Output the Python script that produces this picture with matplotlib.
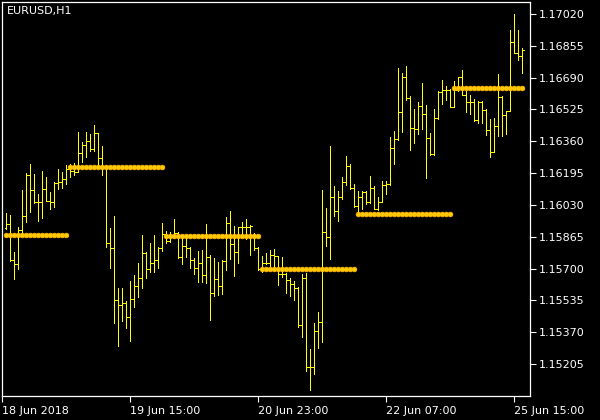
import numpy as np
import pandas as pd
import matplotlib
matplotlib.use("Agg")
import matplotlib.pyplot as plt

# ------------------------- data -------------------------
symbol = "EURUSD,H1"

# hourly bars: 18 Jun 08:00 .. 22 Jun 23:00, then 25 Jun 00:00 .. 17:00
times = pd.DatetimeIndex(
    list(pd.date_range("2018-06-18 08:00", "2018-06-22 23:00", freq="h"))
    + list(pd.date_range("2018-06-25 00:00", "2018-06-25 17:00", freq="h"))
)

opens = [
    1.15909, 1.15930, 1.15744, 1.15724, 1.15900, 1.15971, 1.16185, 1.16105, 1.16045, 1.16045,
    1.16110, 1.16050, 1.16045, 1.16144, 1.16147, 1.16164, 1.16216, 1.16208, 1.16203, 1.16299,
    1.16341, 1.16361, 1.16320, 1.16402, 1.16272, 1.16232, 1.15831, 1.15805, 1.15537, 1.15509,
    1.15520, 1.15447, 1.15540, 1.15608, 1.15649, 1.15781, 1.15696, 1.15727, 1.15743, 1.15808,
    1.15879, 1.15843, 1.15874, 1.15884, 1.15758, 1.15815, 1.15805, 1.15743, 1.15701, 1.15727,
    1.15665, 1.15760, 1.15572, 1.15644, 1.15609, 1.15739, 1.15935, 1.15827, 1.15784, 1.15917,
    1.15914, 1.15917, 1.15878, 1.15805, 1.15697, 1.15730, 1.15730, 1.15770, 1.15763, 1.15672,
    1.15672, 1.15641, 1.15618, 1.15598, 1.15406, 1.15651, 1.15191, 1.15191, 1.15378, 1.15424,
    1.15888, 1.15862, 1.16069, 1.15998, 1.16071, 1.16147, 1.16233, 1.16116, 1.16024, 1.16071,
    1.16097, 1.16044, 1.16118, 1.16009, 1.16047, 1.16133, 1.16137, 1.16327, 1.16370, 1.16510,
    1.16692, 1.16583, 1.16427, 1.16422, 1.16541, 1.16500, 1.16375, 1.16292, 1.16479, 1.16614,
    1.16624, 1.16626, 1.16539, 1.16626, 1.16692, 1.16600, 1.16565, 1.16562, 1.16470, 1.16564,
    1.16522, 1.16418, 1.16306, 1.16438, 1.16591, 1.16495, 1.16517, 1.16873, 1.16819, 1.16802,
]
highs = [
    1.15988, 1.15978, 1.15786, 1.15915, 1.16107, 1.16195, 1.16242, 1.16190, 1.16086, 1.16206,
    1.16175, 1.16097, 1.16147, 1.16216, 1.16201, 1.16238, 1.16242, 1.16247, 1.16408, 1.16356,
    1.16408, 1.16400, 1.16444, 1.16404, 1.16335, 1.16237, 1.15910, 1.15972, 1.15601, 1.15601,
    1.15532, 1.15635, 1.15666, 1.15729, 1.15874, 1.15787, 1.15832, 1.15874, 1.15813, 1.15938,
    1.15893, 1.15891, 1.15957, 1.15888, 1.15865, 1.15865, 1.15813, 1.15753, 1.15791, 1.15796,
    1.15931, 1.15768, 1.15753, 1.15735, 1.15744, 1.15966, 1.15997, 1.15921, 1.15917, 1.15943,
    1.15955, 1.15924, 1.15883, 1.15813, 1.15765, 1.15779, 1.15796, 1.15801, 1.15765, 1.15758,
    1.15678, 1.15649, 1.15634, 1.15604, 1.15670, 1.15678, 1.15283, 1.15419, 1.15475, 1.16106,
    1.16016, 1.16335, 1.16127, 1.16102, 1.16173, 1.16285, 1.16241, 1.16140, 1.16102, 1.16102,
    1.16100, 1.16180, 1.16128, 1.16071, 1.16154, 1.16154, 1.16381, 1.16413, 1.16740, 1.16712,
    1.16750, 1.16595, 1.16527, 1.16562, 1.16662, 1.16548, 1.16403, 1.16527, 1.16621, 1.16678,
    1.16647, 1.16631, 1.16672, 1.16695, 1.16730, 1.16621, 1.16601, 1.16579, 1.16570, 1.16570,
    1.16525, 1.16477, 1.16479, 1.16709, 1.16594, 1.16519, 1.16937, 1.17020, 1.16937, 1.16845,
]
lows = [
    1.15905, 1.15740, 1.15647, 1.15699, 1.15884, 1.15943, 1.15993, 1.16038, 1.15948, 1.15962,
    1.16048, 1.16009, 1.16021, 1.16114, 1.16118, 1.16140, 1.16176, 1.16185, 1.16200, 1.16254,
    1.16280, 1.16307, 1.16307, 1.16234, 1.16185, 1.15813, 1.15704, 1.15416, 1.15300, 1.15429,
    1.15393, 1.15326, 1.15502, 1.15554, 1.15601, 1.15652, 1.15684, 1.15684, 1.15704, 1.15793,
    1.15831, 1.15839, 1.15857, 1.15754, 1.15725, 1.15761, 1.15701, 1.15672, 1.15632, 1.15632,
    1.15623, 1.15433, 1.15559, 1.15564, 1.15568, 1.15692, 1.15749, 1.15661, 1.15730, 1.15862,
    1.15852, 1.15770, 1.15795, 1.15693, 1.15683, 1.15725, 1.15713, 1.15701, 1.15613, 1.15655,
    1.15572, 1.15558, 1.15537, 1.15398, 1.15347, 1.15169, 1.15070, 1.15152, 1.15286, 1.15317,
    1.15817, 1.15748, 1.15974, 1.15948, 1.16061, 1.16133, 1.16114, 1.16021, 1.15981, 1.16007,
    1.16033, 1.16040, 1.16007, 1.16006, 1.16045, 1.16085, 1.16133, 1.16244, 1.16366, 1.16410,
    1.16572, 1.16316, 1.16349, 1.16396, 1.16422, 1.16171, 1.16290, 1.16290, 1.16475, 1.16553,
    1.16574, 1.16536, 1.16536, 1.16621, 1.16598, 1.16513, 1.16500, 1.16467, 1.16456, 1.16453,
    1.16392, 1.16280, 1.16303, 1.16387, 1.16389, 1.16398, 1.16515, 1.16817, 1.16781, 1.16712,
]
closes = [
    1.15930, 1.15744, 1.15724, 1.15900, 1.15971, 1.16185, 1.16105, 1.16045, 1.16045, 1.16110,
    1.16050, 1.16045, 1.16144, 1.16147, 1.16164, 1.16216, 1.16208, 1.16203, 1.16299, 1.16341,
    1.16361, 1.16320, 1.16402, 1.16272, 1.16232, 1.15831, 1.15805, 1.15537, 1.15509, 1.15520,
    1.15447, 1.15540, 1.15608, 1.15649, 1.15781, 1.15696, 1.15727, 1.15743, 1.15808, 1.15879,
    1.15843, 1.15874, 1.15884, 1.15758, 1.15815, 1.15805, 1.15743, 1.15701, 1.15727, 1.15665,
    1.15760, 1.15572, 1.15644, 1.15609, 1.15739, 1.15935, 1.15827, 1.15784, 1.15917, 1.15914,
    1.15917, 1.15921, 1.15805, 1.15697, 1.15730, 1.15730, 1.15770, 1.15763, 1.15672, 1.15672,
    1.15641, 1.15618, 1.15598, 1.15406, 1.15651, 1.15191, 1.15191, 1.15378, 1.15424, 1.15888,
    1.15862, 1.16069, 1.15998, 1.16071, 1.16147, 1.16233, 1.16116, 1.16024, 1.16071, 1.16097,
    1.16044, 1.16118, 1.16009, 1.16047, 1.16133, 1.16137, 1.16327, 1.16370, 1.16510, 1.16692,
    1.16583, 1.16427, 1.16422, 1.16541, 1.16500, 1.16375, 1.16292, 1.16479, 1.16614, 1.16624,
    1.16626, 1.16539, 1.16626, 1.16692, 1.16600, 1.16565, 1.16562, 1.16470, 1.16564, 1.16522,
    1.16418, 1.16306, 1.16438, 1.16591, 1.16495, 1.16517, 1.16873, 1.16819, 1.16802, 1.16833,
]

# daily pivot level per trading day
pivot_days = ["2018-06-18", "2018-06-19", "2018-06-20", "2018-06-21", "2018-06-22", "2018-06-25"]
pivot_levels = [1.15872, 1.16225, 1.15870, 1.15696, 1.15983, 1.16635]

price_ticks = [1.17020, 1.16855, 1.16690, 1.16525, 1.16360, 1.16195,
               1.16030, 1.15865, 1.15700, 1.15535, 1.15370, 1.15205]
time_ticks = ["2018-06-19 15:00", "2018-06-20 23:00", "2018-06-22 07:00", "2018-06-25 15:00"]
time_labels = ["18 Jun 2018", "19 Jun 15:00", "20 Jun 23:00", "22 Jun 07:00", "25 Jun 15:00"]

# ------------------------- plot -------------------------
BAR_COLOR = "#FFFF00"
FG = "white"
LW = 0.5  # ~1 px

fig = plt.figure(figsize=(6, 4.2), dpi=100, facecolor="black")
ax = fig.add_axes([2 / 600, 24 / 420, 528 / 600, 394 / 420], facecolor="black")

idx = np.arange(len(times))
ax.vlines(idx, lows, highs, colors=BAR_COLOR, lw=LW, antialiased=False)
ax.hlines(opens, idx - 0.45, idx, colors=BAR_COLOR, lw=LW, antialiased=False)
ax.hlines(closes, idx, idx + 0.45, colors=BAR_COLOR, lw=LW, antialiased=False)

# pivot dots, one per bar, grouped by day
day_of_bar = times.strftime("%Y-%m-%d")
level_map = dict(zip(pivot_days, pivot_levels))
for day in pivot_days:
    sel = idx[day_of_bar == day]
    ax.plot(sel, [level_map[day]] * len(sel), ls="none", marker="o",
            ms=3.4, mfc="#FFCC00", mec="#FFB400", mew=0.5)

ax.set_xlim(-1.075, len(times) + 0.925)
ax.set_ylim(1.15039, 1.17082)

ax.yaxis.tick_right()
ax.set_yticks(price_ticks)
ax.set_yticklabels([f"{p:.5f}" for p in price_ticks])

xt = [-1] + list(times.get_indexer(pd.to_datetime(time_ticks)))
ax.set_xticks(xt)
ax.set_xticklabels(time_labels, ha="left")

ax.tick_params(axis="both", colors=FG, labelcolor=FG, labelsize=8, length=4, width=0.8)
ax.tick_params(axis="y", pad=2)
ax.tick_params(axis="x", pad=3)
for s in ax.spines.values():
    s.set_color(FG)
    s.set_linewidth(0.9)

fig.text(7 / 600, 1 - 6 / 420, symbol, color=FG, fontsize=8, ha="left", va="top")

fig.savefig("out.png", dpi=100, facecolor="black")
